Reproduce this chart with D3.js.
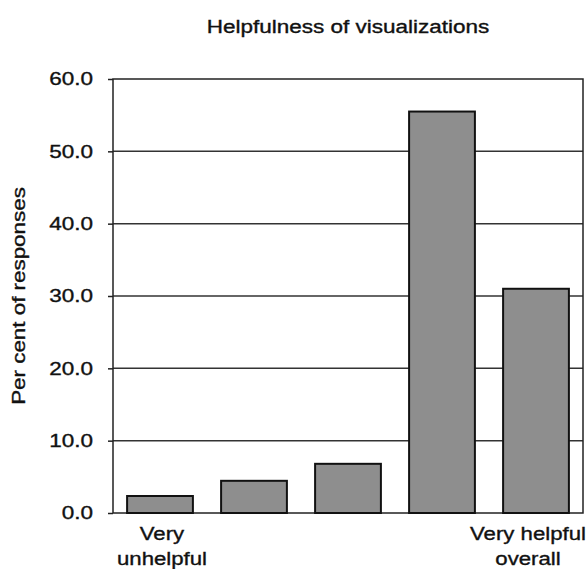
<!DOCTYPE html>
<html>
<head>
<meta charset="utf-8">
<script src="https://cdn.jsdelivr.net/npm/d3@7"></script>
<style>
  body { margin: 0; background: #fff; }
  text { font-family: Arial, "Liberation Sans", sans-serif; fill: #111; stroke: #111; stroke-width: 0.35px; }
</style>
</head>
<body>
<div class="container"></div>
<script>
var categories = ["1", "2", "3", "4", "5"];
var values = [2.35, 4.45, 6.8, 55.5, 31.0];
var yTicks = [0, 10, 20, 30, 40, 50, 60];
var endLabels = [
  {cat: "1", lines: ["Very", "unhelpful"], shift: 2},
  {cat: "5", lines: ["Very helpful", "overall"], shift: -8}
];

const WIDTH = 587;
const HEIGHT = 569;
const LEFT = 113, RIGHT = 583, TOP = 79, BOTTOM = 513;
const STRETCH = 1.22; // the scanned text is wider than Arial

var svg = d3.select('.container').append('svg')
  .attr('width', WIDTH)
  .attr('height', HEIGHT);

var xScale = d3.scaleBand()
  .domain(categories)
  .range([LEFT, RIGHT])
  .paddingInner(0.3)
  .paddingOuter(0.15);

var yScale = d3.scaleLinear()
  .domain([0, 60])
  .range([BOTTOM, TOP]);

var place = function(x, y, sx, rot){
  return "translate(" + x + "," + y + ")" + (rot ? " rotate(" + rot + ")" : "") + " scale(" + sx + ",1)";
};

// gridlines
svg.append('g').selectAll('line').data(yTicks.filter(function(d){ return d > 0 && d < 60; }))
  .enter().append('line')
  .attr('x1', LEFT).attr('x2', RIGHT)
  .attr('y1', function(d){ return yScale(d); })
  .attr('y2', function(d){ return yScale(d); })
  .attr('stroke', '#333').attr('stroke-width', 1.5);

// frame
svg.append('rect')
  .attr('x', LEFT).attr('y', TOP)
  .attr('width', RIGHT - LEFT).attr('height', BOTTOM - TOP)
  .attr('fill', 'none').attr('stroke', '#222').attr('stroke-width', 1.5);

// bars
svg.append('g').selectAll('rect').data(values)
  .enter().append('rect')
  .attr('x', function(d, i){ return xScale(categories[i]); })
  .attr('y', function(d){ return yScale(d); })
  .attr('width', xScale.bandwidth())
  .attr('height', function(d){ return yScale(0) - yScale(d); })
  .attr('fill', '#8e8e8e')
  .attr('stroke', '#111')
  .attr('stroke-width', 2);

// y axis
var yAxis = d3.axisLeft(yScale)
  .tickValues(yTicks)
  .tickSize(5)
  .tickPadding(0)
  .tickFormat(d3.format('.1f'));

var ya = svg.append('g')
  .attr('transform', 'translate(' + LEFT + ',0)')
  .call(yAxis);
ya.select('.domain').remove();
ya.selectAll('line').attr('stroke', '#222').attr('stroke-width', 1.5);
ya.selectAll('text')
  .attr('x', 0)
  .attr('transform', place(-20, 0, 1.25))
  .style('font-family', 'Arial, "Liberation Sans", sans-serif')
  .style('font-size', '18px')
  .attr('fill', '#111');

// x labels
endLabels.forEach(function(lab){
  var cx = xScale(lab.cat) + xScale.bandwidth() / 2 + lab.shift;
  lab.lines.forEach(function(line, j){
    svg.append('text')
      .attr('transform', place(cx, 540 + j * 25, 1.2))
      .attr('text-anchor', 'middle')
      .style('font-size', '18.5px')
      .text(line);
  });
});

// title
svg.append('text')
  .attr('transform', place((LEFT + RIGHT) / 2, 33, 1.25))
  .attr('text-anchor', 'middle')
  .style('font-size', '18px')
  .text('Helpfulness of visualizations');

// y label
svg.append('text')
  .attr('transform', 'translate(25,' + ((TOP + BOTTOM) / 2) + ') rotate(-90) scale(1.28,1)')
  .attr('text-anchor', 'middle')
  .style('font-size', '17.5px')
  .text('Per cent of responses');
</script>
</body>
</html>
